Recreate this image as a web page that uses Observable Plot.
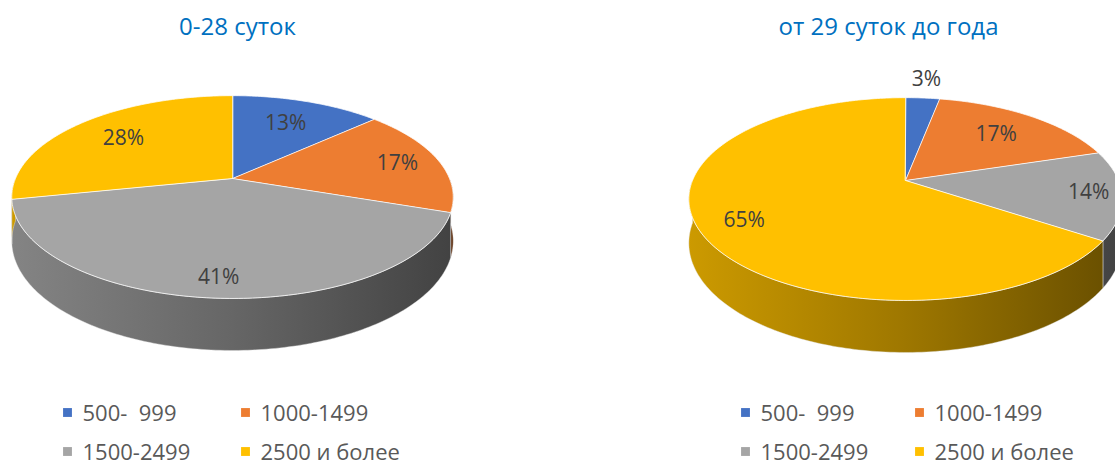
<!DOCTYPE html>
<html><head><meta charset="utf-8">
<script src="https://cdn.jsdelivr.net/npm/d3@7"></script>
<script src="https://cdn.jsdelivr.net/npm/@observablehq/plot@0.6"></script>
<style>body{margin:0;background:#fff} svg text{white-space:pre}</style>
</head><body><div id="chart"></div>
<script>
// ---- data ----
const categories = ["500-  999", "1000-1499", "1500-2499", "2500 и более"];
const colors = ["#4472c4", "#ed7d31", "#a5a5a5", "#ffc000"];
const titles = ["0-28 суток", "от 29 суток до года"];
const values0to28 = [13, 17, 41, 28];
const values29toYear = [3, 17, 14, 65];
const percentLabels0to28 = ["13%", "17%", "41%", "28%"];
const percentLabels29toYear = ["3%", "17%", "14%", "65%"];

// ---- layout ----
const W = 1115, H = 466;
const pies = [
  {values: values0to28, labels: percentLabels0to28, title: titles[0],
   cx: 232, cy: 178, A: 98, B: 217, p: 0.183, h: 42.5,
   labelR: [0.68, 0.8, 0.85, 0.7], titleX: 237, legendX: [67, 245]},
  {values: values29toYear, labels: percentLabels29toYear, title: titles[1],
   cx: 905, cy: 180, A: 98, B: 213, p: 0.183, h: 42.5,
   labelR: [1.28, 0.7, 0.85, 0.8], titleX: 888, legendX: [745, 919]}
];
const legendRows = [412, 451];

function proj(P, t, r, level) {
  const s = Math.sin(t) * r, c = Math.cos(t) * r;
  const d = 1 + P.p * c;
  return {x: P.cx + P.B * s / d, y: P.cy + (-P.A * c + level * P.h) / d};
}
function arc(P, a0, a1, level) {
  const n = Math.max(2, Math.ceil((a1 - a0) / (Math.PI / 180)));
  const pts = [];
  for (let i = 0; i <= n; i++) pts.push(proj(P, a0 + (a1 - a0) * i / n, 1, level));
  return pts;
}
function shade(c, k) {
  const o = d3.rgb(c);
  return d3.rgb(o.r * k, o.g * k, o.b * k).formatHex();
}

const marks = [];
const gradients = [];
const labelRows = [], titleRows = [], legendDots = [], legendTexts = [];

pies.forEach((P, pi) => {
  const arcs = d3.pie().sort(null).value(d => d)(P.values);
  // side walls (front half only)
  arcs.forEach((a, i) => {
    const lo = Math.PI / 2, hi = 3 * Math.PI / 2;
    const s = Math.max(a.startAngle, lo), e = Math.min(a.endAngle, hi);
    if (e > s) {
      const gid = `g${pi}_${i}`;
      gradients.push({id: gid, x1: P.cx - P.B * 1.02, x2: P.cx + P.B * 1.02, color: colors[i]});
      const poly = arc(P, s, e, 0).concat(arc(P, s, e, 1).reverse());
      marks.push(Plot.line(poly, {x: "x", y: "y", curve: "linear-closed",
        fill: `url(#${gid})`, stroke: "#e8e8e8", strokeWidth: 0.6, strokeOpacity: 0.7}));
    }
  });
  // top faces
  arcs.forEach((a, i) => {
    const poly = [{x: P.cx, y: P.cy}].concat(arc(P, a.startAngle, a.endAngle, 0));
    marks.push(Plot.line(poly, {x: "x", y: "y", curve: "linear-closed",
      fill: colors[i], stroke: "#ffffff", strokeWidth: 1, strokeOpacity: 0.75}));
    const m = (a.startAngle + a.endAngle) / 2;
    const q = proj(P, m, P.labelR[i], 0);
    labelRows.push({x: q.x, y: q.y, text: P.labels[i]});
  });
  titleRows.push({x: P.titleX, y: 27, text: P.title});
  categories.forEach((c, i) => {
    const lx = P.legendX[i % 2], ly = legendRows[Math.floor(i / 2)];
    legendDots.push({x: lx, y: ly, color: colors[i]});
    legendTexts.push({x: lx + 15, y: ly + 1, text: c});
  });
});

marks.push(Plot.text(labelRows, {x: "x", y: "y", text: "text", fontSize: 21, fill: "#404040"}));
marks.push(Plot.text(titleRows, {x: "x", y: "y", text: "text", fontSize: 24, fill: "#0070c0"}));
marks.push(Plot.dot(legendDots, {x: "x", y: "y", fill: "color", symbol: "square", r: 5}));
marks.push(Plot.text(legendTexts, {x: "x", y: "y", text: "text", fontSize: 22, fill: "#595959", textAnchor: "start"}));

const svg = Plot.plot({
  width: W, height: H, margin: 0,
  x: {domain: [0, W], range: [0, W], axis: null},
  y: {domain: [0, H], range: [0, H], axis: null},
  color: {type: "identity"},
  style: {fontFamily: "'Open Sans', sans-serif", background: "#fff"},
  marks
});
const defs = d3.select(svg).insert("defs", ":first-child");
gradients.forEach(g => {
  const lg = defs.append("linearGradient").attr("id", g.id)
    .attr("gradientUnits", "userSpaceOnUse")
    .attr("x1", g.x1).attr("x2", g.x2).attr("y1", 0).attr("y2", 0);
  [[0, 0.8], [0.5, 0.62], [1, 0.4]].forEach(([o, k]) =>
    lg.append("stop").attr("offset", o).attr("stop-color", shade(g.color, k)));
});
document.getElementById("chart").append(svg);
</script>
</body></html>
